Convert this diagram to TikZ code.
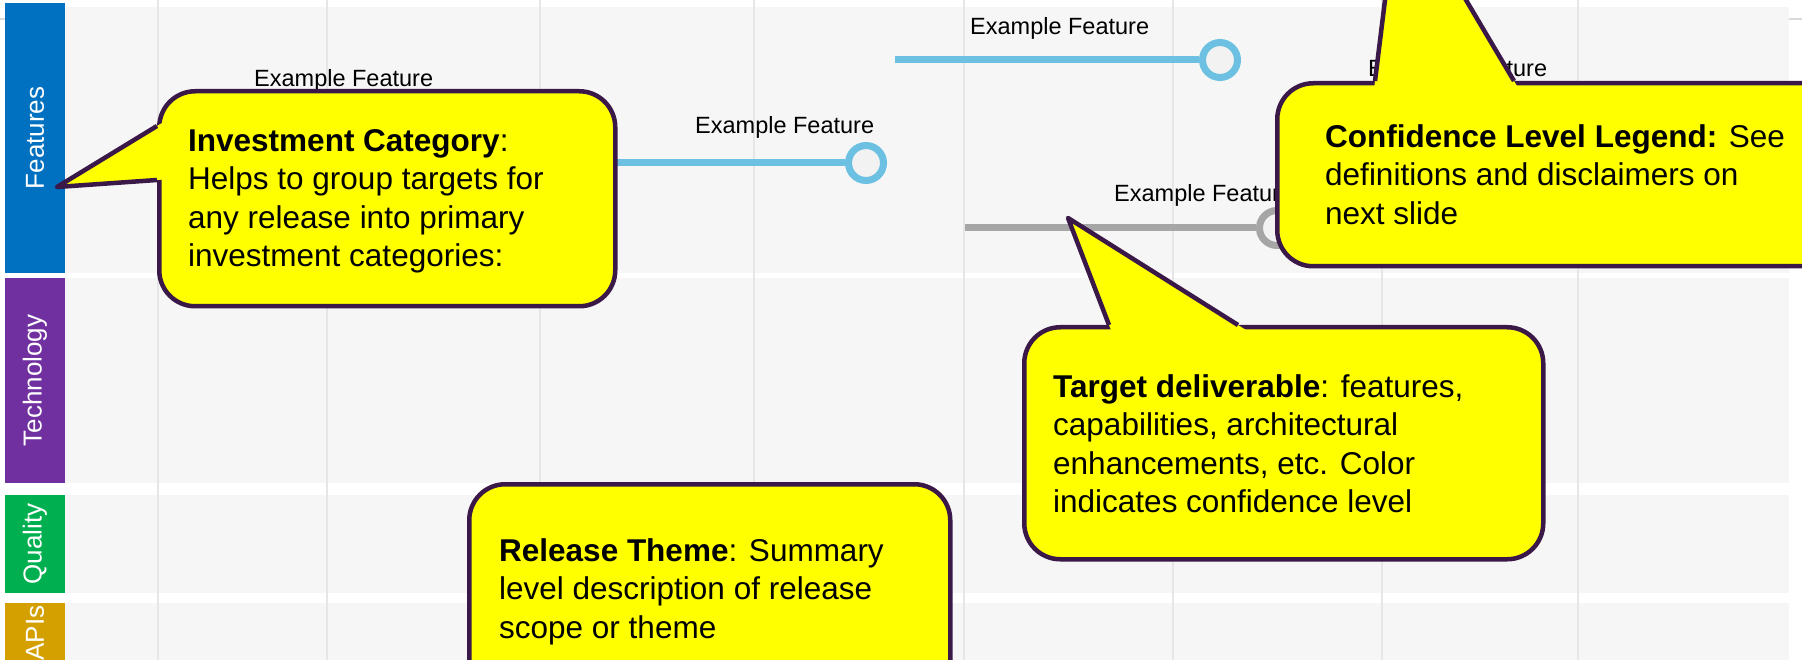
\documentclass[tikz,border=0pt]{standalone}
\usepackage{fontspec}
\setmainfont{Liberation Sans}
\usetikzlibrary{calc}
\definecolor{laneGray}{HTML}{F6F6F6}
\definecolor{gridGray}{HTML}{E6E6E6}
\definecolor{ruleGray}{HTML}{D9D9D9}
\definecolor{catBlue}{HTML}{0070C0}
\definecolor{catPurple}{HTML}{7030A0}
\definecolor{catGreen}{HTML}{00B050}
\definecolor{catGold}{HTML}{D4A000}
\definecolor{featBlue}{HTML}{6CC0E2}
\definecolor{featGray}{HTML}{A6A6A6}
\definecolor{circleFill}{HTML}{F2F2F2}
\definecolor{callYellow}{HTML}{FFFF00}
\definecolor{callBorder}{HTML}{3A1848}
\begin{document}
\begin{tikzpicture}[x=1pt,y=-1pt,
  lane/.style={fill=laneGray},
  gridline/.style={draw=gridGray, line width=1.5pt},
  catbar/.style={rotate=90, inner sep=0pt, minimum height=60pt, text=white, font=\fontsize{26}{30}\selectfont},
  featlabel/.style={anchor=base west, inner sep=0pt, font=\fontsize{23.5}{28}\selectfont},
  featline/.style={line width=7pt},
  featdot/.style={circle, line width=7pt, minimum size=35pt, inner sep=0pt, fill=circleFill},
  callbox/.style={rectangle, rounded corners=36pt, fill=callYellow, draw=callBorder, line width=4.5pt, anchor=north west, inner sep=0pt},
  callfill/.style={fill=callYellow},
  callline/.style={draw=callBorder, line width=4.5pt, line join=round},
  calltext/.style={anchor=north west, inner sep=0pt, align=left, font=\fontsize{31.5}{38.5}\selectfont},
]
\useasboundingbox (0,0) rectangle (1802,660);
\clip (0,0) rectangle (1802,660);

% top rule
\draw[ruleGray, line width=2pt] (0,19.5) -- (1802,19.5);

% lanes
\path[lane] (65,7) rectangle (1789,273);
\path[lane] (65,278) rectangle (1789,483);
\path[lane] (65,495) rectangle (1789,593);
\path[lane] (65,603) rectangle (1789,700);

% grid
\foreach \gx in {158,327,540,754,964,1173,1382,1578}
  \draw[gridline] (\gx,0) -- (\gx,660);

% category bars
\node[catbar, fill=catBlue, minimum width=270pt] (features) at (35,138) {Features};
\node[catbar, fill=catPurple, minimum width=205pt] (technology) at (35,380.5) {Technology};
\node[catbar, fill=catGreen, minimum width=98pt] (quality) at (35,544) {Quality};
\node[catbar, fill=catGold, minimum width=60pt] (apis) at (35,633) {APIs};

% feature labels
\node[featlabel] (l1) at (254,87) {Example Feature};
\node[featlabel] (l2) at (695,134) {Example Feature};
\node[featlabel] (l0) at (970,35) {Example Feature};
\node[featlabel] (l3) at (1114,202) {Example Feature};
\node[featlabel] (l4) at (1368,77) {Example Feature};

% feature bars
\node[featdot, draw=featBlue] (d0) at (1220,60) {};
\coordinate (s0) at (895,60);
\draw[featline, featBlue] (s0) -- (d0);
\node[featdot, draw=featBlue] (d2) at (866,163) {};
\coordinate (s2) at (560,163);
\draw[featline, featBlue] (s2) -- (d2);
\node[featdot, draw=featGray] (d3) at (1277,228) {};
\coordinate (s3) at (965,228);
\draw[featline, featGray] (s3) -- (d3);

% callout: investment category
\node[callbox, minimum width=456pt, minimum height=215pt] (ic) at (157,89) {};
\coordinate (icA) at (157,126);
\coordinate (icTip) at (57,187);
\coordinate (icB) at (157,180);
\fill[callfill] ($(icTip)!1.06!(icA)$) -- (icTip) -- ($(icTip)!1.06!(icB)$) -- cycle;
\draw[callline] (icA) -- (icTip) -- (icB);
\node[calltext] (icText) at (188,129) {\textbf{Investment Category}:\\Helps to group targets for\\any release into primary\\investment categories:};

% callout: target deliverable
\node[callbox, minimum width=519pt, minimum height=232pt] (td) at (1022,325) {};
\coordinate (tdA) at (1109,325);
\coordinate (tdTip) at (1068,218);
\coordinate (tdB) at (1238,325);
\fill[callfill] ($(tdTip)!1.06!(tdA)$) -- (tdTip) -- ($(tdTip)!1.06!(tdB)$) -- cycle;
\draw[callline] (tdA) -- (tdTip) -- (tdB);
\node[calltext] (tdText) at (1053,374) {\textbf{Target deliverable}: features,\\capabilities, architectural\\enhancements, etc. Color\\indicates confidence level};

% callout: confidence level legend
\node[callbox, minimum width=600pt, minimum height=183pt] (cl) at (1275,81) {};
\coordinate (clA) at (1375,81);
\coordinate (clTip) at (1399,-113);
\coordinate (clB) at (1514,81);
\fill[callfill] ($(clTip)!1.04!(clA)$) -- (clTip) -- ($(clTip)!1.04!(clB)$) -- cycle;
\draw[callline] (clA) -- (clTip) -- (clB);
\node[calltext] (clText) at (1325,124) {\textbf{Confidence Level Legend:} See\\definitions and disclaimers on\\next slide};

% callout: release theme
\node[callbox, minimum width=481pt, minimum height=250pt] (rt) at (467,482) {};
\node[calltext] (rtText) at (499,538) {\textbf{Release Theme}: Summary\\level description of release\\scope or theme};
\end{tikzpicture}
\end{document}
